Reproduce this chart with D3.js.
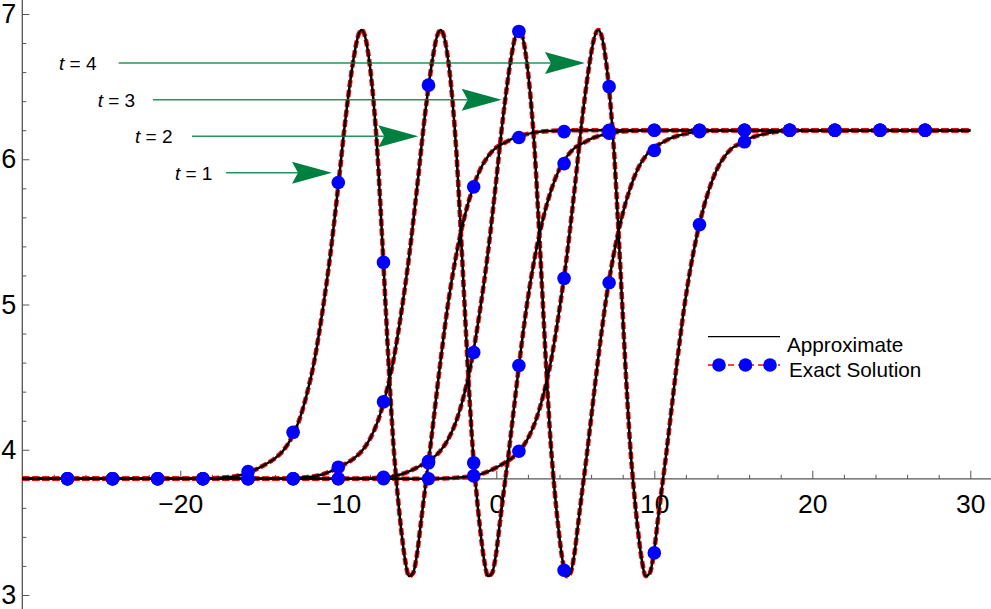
<!DOCTYPE html>
<html><head><meta charset="utf-8">
<script src="https://cdn.jsdelivr.net/npm/d3@7"></script>
<style>html,body{margin:0;padding:0;background:#fff;}svg{display:block;font-family:"Liberation Sans",Arial,sans-serif;}</style>
</head><body>
<svg id="c" width="991" height="609"></svg>
<script>
// ---------------- data ----------------
const seriesNames = ["t = 1", "t = 2", "t = 3", "t = 4"];
// shared shape ordinates (same for every t, picture shows shifted copies)
const shapeY = [3.80,3.80,3.80,3.802,3.807,3.818,3.83,3.85,3.875,3.905,3.94,3.99,4.07,4.19,4.37,4.61,4.94,5.33,5.80,6.30,6.70,6.84,6.89,6.83,6.66,6.40,6.04,5.55,5.02,4.50,4.05,3.72,3.45,3.24,3.13,3.15,3.28,3.50,3.72,3.93,4.16,4.62,5.03,5.35,5.60,5.79,5.93,6.02,6.08,6.11,6.14,6.16,6.185,6.195,6.20,6.20];
const lineX_t1 = [-30,-21.52,-19.52,-18.52,-17.52,-16.52,-16.02,-15.52,-15.02,-14.52,-14.02,-13.52,-13.02,-12.52,-12.02,-11.52,-11.02,-10.52,-10.02,-9.52,-9.02,-8.77,-8.52,-8.27,-8.02,-7.77,-7.52,-7.27,-7.02,-6.77,-6.52,-6.27,-6.02,-5.77,-5.52,-5.27,-5.02,-4.77,-4.52,-4.27,-4.02,-3.52,-3.02,-2.52,-2.02,-1.52,-1.02,-0.52,-0.02,0.48,0.98,1.48,2.48,3.48,4.48,30];
const lineX_t2 = [-30,-16.52,-14.52,-13.52,-12.52,-11.52,-11.02,-10.52,-10.02,-9.52,-9.02,-8.52,-8.02,-7.52,-7.02,-6.52,-6.02,-5.52,-5.02,-4.52,-4.02,-3.77,-3.52,-3.27,-3.02,-2.77,-2.52,-2.27,-2.02,-1.77,-1.52,-1.27,-1.02,-0.77,-0.52,-0.27,-0.02,0.23,0.48,0.73,0.98,1.48,1.98,2.48,2.98,3.48,3.98,4.48,4.98,5.48,5.98,6.48,7.48,8.48,9.48,30];
const lineX_t3 = [-30,-11.56,-9.56,-8.56,-7.56,-6.56,-6.06,-5.56,-5.06,-4.56,-4.06,-3.56,-3.06,-2.56,-2.06,-1.56,-1.06,-0.56,-0.06,0.44,0.94,1.19,1.44,1.69,1.94,2.19,2.44,2.69,2.94,3.19,3.44,3.69,3.94,4.19,4.44,4.69,4.94,5.19,5.44,5.69,5.94,6.44,6.94,7.44,7.94,8.44,8.94,9.44,9.94,10.44,10.94,11.44,12.44,13.44,14.44,30];
const lineX_t4 = [-30,-6.54,-4.54,-3.54,-2.54,-1.54,-1.04,-0.54,-0.04,0.46,0.96,1.46,1.96,2.46,2.96,3.46,3.96,4.46,4.96,5.46,5.96,6.21,6.46,6.71,6.96,7.21,7.46,7.71,7.96,8.21,8.46,8.71,8.96,9.21,9.46,9.71,9.96,10.21,10.46,10.71,10.96,11.46,11.96,12.46,12.96,13.46,13.96,14.46,14.96,15.46,15.96,16.46,17.46,18.46,19.46,30];

// exact-solution markers
const dotX = [-27.14,-24.29,-21.43,-18.57,-15.71,-12.86,-10,-7.14,-4.29,-1.43,1.43,4.29,7.14,10,12.86,15.71,18.57,21.43,24.29,27.14];
const dotY_t1 = [3.8,3.8,3.8,3.8,3.85,4.12,5.84,5.29,3.91,5.81,6.15,6.19,6.2,6.2,6.2,6.2,6.2,6.2,6.2,6.2];
const dotY_t2 = [3.8,3.8,3.8,3.8,3.8,3.8,3.88,4.33,6.51,3.91,4.58,5.97,6.18,6.2,6.2,6.2,6.2,6.2,6.2,6.2];
const dotY_t3 = [3.8,3.8,3.8,3.8,3.8,3.8,3.8,3.81,3.92,4.67,6.88,3.17,5.15,6.06,6.19,6.2,6.2,6.2,6.2,6.2];
const dotY_t4 = [3.8,3.8,3.8,3.8,3.8,3.8,3.8,3.8,3.8,3.82,3.99,5.18,6.50,3.29,5.55,6.12,6.2,6.2,6.2,6.2];

// ticks
const xTickMajor = [-20,-10,0,10,20,30];
const xTickMinor = [-28,-26,-24,-22,-18,-16,-14,-12,-8,-6,-4,-2,2,4,6,8,12,14,16,18,22,24,26,28];
const yTickMajor = [3,4,5,6,7];
const yTickMinor = [3.2,3.4,3.6,3.8,4.2,4.4,4.6,4.8,5.2,5.4,5.6,5.8,6.2,6.4,6.6,6.8];

// annotations: label, arrow tail x, arrow tip x, y (data units), label start x
const annoLabel = ["1","2","3","4"];
const annoTailX = [-17.1,-19.26,-21.73,-23.9];
const annoTipX  = [-10.4,-4.94,0.34,5.61];
const annoY     = [5.907,6.158,6.41,6.663];
const annoTextX = [-20.34,-22.87,-25.23,-27.68];

const legendLabels = ["Approximate","Exact Solution"];

// ---------------- drawing ----------------
const W = 991, H = 609;
const svg = d3.select("#c");
const x = d3.scaleLinear().domain([-30,30]).range([22.3,970.3]);
const y = d3.scaleLinear().domain([3,7]).range([595,14]);
const baseY = 3.8;

const lines = [lineX_t1,lineX_t2,lineX_t3,lineX_t4].map(xs => xs.map((v,i)=>[v,shapeY[i]]));
const dots = [dotY_t1,dotY_t2,dotY_t3,dotY_t4].map(ys => ys.map((v,i)=>[dotX[i],v]));

// axes
const axisCol = "#555";
const gx = svg.append("g").attr("transform",`translate(0,${y(baseY)})`);
gx.call(d3.axisBottom(x).tickValues(xTickMajor).tickSize(-8).tickPadding(15).tickFormat(d3.format("d")));
gx.append("g").call(d3.axisBottom(x).tickValues(xTickMinor).tickSize(-4).tickFormat(""));
gx.selectAll(".domain").remove();
gx.selectAll("line").attr("stroke",axisCol).attr("stroke-width",1);
gx.selectAll("text").attr("font-size",26.5).attr("fill","#000").attr("font-family","Liberation Sans, Arial, sans-serif");
gx.append("line").attr("x1",x(-30)).attr("x2",W).attr("y1",0).attr("y2",0).attr("stroke",axisCol).attr("stroke-width",1.3);

const gy = svg.append("g").attr("transform",`translate(${x(-30)},0)`);
gy.call(d3.axisLeft(y).tickValues(yTickMajor).tickSize(-7).tickPadding(6).tickFormat(d3.format("d")));
gy.append("g").call(d3.axisLeft(y).tickValues(yTickMinor).tickSize(-4).tickFormat(""));
gy.selectAll(".domain").remove();
gy.selectAll("line").attr("stroke",axisCol).attr("stroke-width",1);
gy.selectAll("text").attr("font-size",27).attr("fill","#000").attr("font-family","Liberation Sans, Arial, sans-serif");
gy.append("line").attr("x1",0).attr("x2",0).attr("y1",0).attr("y2",H).attr("stroke",axisCol).attr("stroke-width",1.3);

// curves
const lineGen = d3.line().x(d=>x(d[0])).y(d=>y(d[1])).curve(d3.curveMonotoneX);
const gCurves = svg.append("g");
lines.forEach(L => {
  gCurves.append("path").attr("d",lineGen(L)).attr("fill","none")
    .attr("stroke","#ff0000").attr("stroke-width",4.6).attr("stroke-dasharray","7,3");
});
lines.forEach(L => {
  gCurves.append("path").attr("d",lineGen(L)).attr("fill","none")
    .attr("stroke","#000").attr("stroke-width",2.5);
});
const gDots = svg.append("g");
dots.forEach(D => {
  gDots.selectAll(null).data(D).enter().append("circle")
    .attr("cx",d=>x(d[0])).attr("cy",d=>y(d[1])).attr("r",6.8).attr("fill","#0000ff");
});

// annotations
const green = "#008040";
const gA = svg.append("g");
annoLabel.forEach((lab,i)=>{
  const yy = y(annoY[i]);
  const tip = x(annoTipX[i]);
  const L = 40, hw = 11, notch = 6;
  gA.append("line").attr("x1",x(annoTailX[i])).attr("x2",tip-L+notch).attr("y1",yy).attr("y2",yy)
    .attr("stroke",green).attr("stroke-width",1.5).attr("stroke-opacity",0.85);
  gA.append("path").attr("d",`M${tip},${yy} L${tip-L},${yy-hw} L${tip-L+notch},${yy} L${tip-L},${yy+hw} Z`).attr("fill",green);
  const t = gA.append("text").attr("x",x(annoTextX[i])).attr("y",yy).attr("dy","0.36em")
    .attr("font-size",19).attr("fill","#000");
  t.append("tspan").attr("font-style","italic").text("t");
  t.append("tspan").text(" = "+lab);
});

// legend
const gL = svg.append("g");
gL.append("line").attr("x1",708).attr("x2",780).attr("y1",336.7).attr("y2",336.7).attr("stroke","#000").attr("stroke-width",1.3);
gL.append("text").attr("x",787).attr("y",352).attr("font-size",20.7).attr("fill","#000").text(legendLabels[0]);
gL.append("line").attr("x1",708).attr("x2",780).attr("y1",365).attr("y2",365).attr("stroke","#ff0000").attr("stroke-width",1.3).attr("stroke-dasharray","6,4");
[719,745.5,770].forEach(cx=>gL.append("circle").attr("cx",cx).attr("cy",365).attr("r",6.8).attr("fill","#0000ff"));
gL.append("text").attr("x",789).attr("y",377).attr("font-size",20.7).attr("fill","#000").text(legendLabels[1]);
</script>
</body></html>
